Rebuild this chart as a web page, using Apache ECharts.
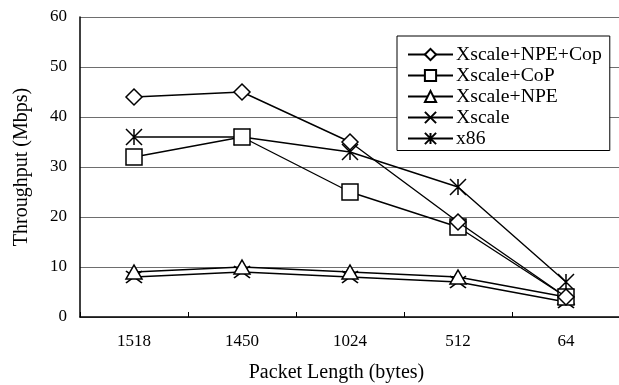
<!DOCTYPE html>
<html>
<head>
<meta charset="utf-8">
<script src="https://cdn.jsdelivr.net/npm/echarts@6/dist/echarts.min.js"></script>
<style>
html,body{margin:0;padding:0;background:#fff;}
#chart{width:619px;height:385px;}
</style>
</head>
<body>
<div id="chart"></div>
<script>
var categories = ['1518', '1450', '1024', '512', '64'];
var seriesNames = ['Xscale+NPE+Cop', 'Xscale+CoP', 'Xscale+NPE', 'Xscale', 'x86'];
var npeCop = [44, 45, 35, 19, 4];
var cop = [32, 36, 25, 18, 4];
var npe = [9, 10, 9, 8, 4];
var xscale = [8, 9, 8, 7, 3];
var x86 = [36, 36, 33, 26, 7];
var yTicks = [0, 10, 20, 30, 40, 50, 60];

var FONT = '"Liberation Serif", "Times New Roman", serif';
var symbols = [
  'diamond',
  'rect',
  'triangle',
  'path://M0,0L10,10M10,0L0,10',
  'path://M5,0L5,10M0,0L10,10M10,0L0,10'
];
var sizes = [[16,16],[16,16],[16,14],[16,12],[16,16]];
var dataList = [npeCop, cop, npe, xscale, x86];

var series = seriesNames.map(function(name, i){
  return {
    name: name,
    type: 'line',
    data: dataList[i],
    symbol: symbols[i],
    symbolSize: sizes[i],
    showAllSymbol: true,
    lineStyle: {color: '#000', width: 1.4},
    itemStyle: {color: '#fff', borderColor: '#000', borderWidth: 1.5},
    emphasis: {disabled: true},
    animation: false,
    z: 5 - i
  };
});

var chart = echarts.init(document.getElementById('chart'), null, {renderer: 'canvas'});
chart.setOption({
  backgroundColor: '#fff',
  animation: false,
  grid: {left: 80, right: -1, top: 17, bottom: 68, containLabel: false, outerBoundsMode: 'none'},
  legend: {
    orient: 'vertical',
    left: 397, top: 36,
    padding: [8.5, 8, 2, 10],
    itemWidth: 45, itemHeight: 14, itemGap: 1,
    backgroundColor: '#fff',
    borderColor: '#000', borderWidth: 1,
    textStyle: {fontFamily: FONT, fontSize: 19.7, color: '#000', padding: [0,0,0,-2]},
    data: seriesNames
  },
  xAxis: {
    type: 'category',
    data: categories,
    boundaryGap: true,
    axisLine: {lineStyle: {color: '#000', width: 1.5}},
    axisTick: {show: true, inside: true, length: 5, lineStyle: {color: '#000', width: 1}},
    axisLabel: {fontFamily: FONT, fontSize: 17, color: '#000', margin: 16},
    name: 'Packet Length (bytes)',
    nameLocation: 'middle',
    nameGap: 46,
    nameTextStyle: {fontFamily: FONT, fontSize: 20, color: '#000', padding:[0,0,0,-27]}
  },
  yAxis: {
    type: 'value',
    min: 0, max: 60, interval: 10,
    axisLine: {show: true, lineStyle: {color: '#000', width: 1.5}},
    axisTick: {show: false},
    splitLine: {lineStyle: {color: '#6e6e6e', width: 1.2}},
    axisLabel: {fontFamily: FONT, fontSize: 17, color: '#000', margin: 13,
      formatter: function(v){ return yTicks.indexOf(v) >= 0 ? String(v) : ''; }},
    name: 'Throughput (Mbps)',
    nameLocation: 'middle',
    nameGap: 48,
    nameTextStyle: {fontFamily: FONT, fontSize: 20, color: '#000'}
  },
  series: series
});
</script>
</body>
</html>
